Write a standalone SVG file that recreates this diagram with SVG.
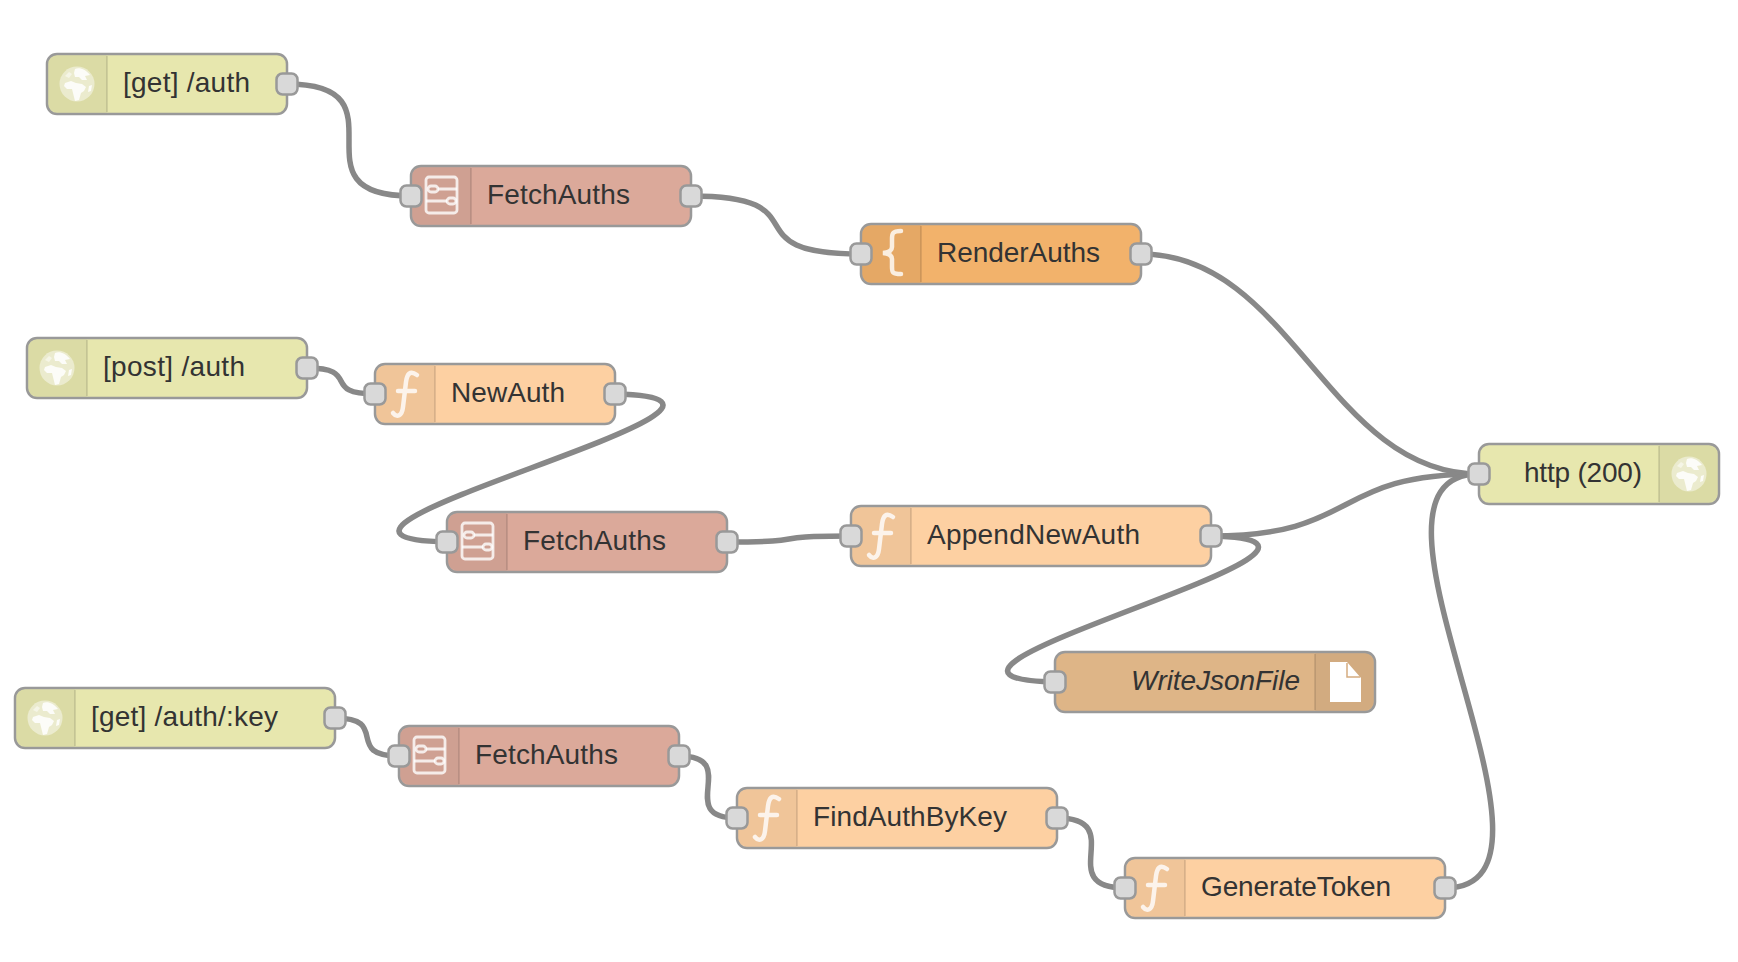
<svg xmlns="http://www.w3.org/2000/svg" width="1738" height="962" viewBox="0 0 1738 962">
<style>
text{font-family:"Liberation Sans",Arial,sans-serif;font-size:28px;fill:#333}
.body{stroke:#999;stroke-width:2.5}
.strip{fill:#000;fill-opacity:.05}
.div{stroke:#000;stroke-opacity:.1;stroke-width:2}
.port{fill:#d9d9d9;stroke:#999;stroke-width:2.5}
.wo{fill:none;stroke:#fff;stroke-width:9}
.w{fill:none;stroke:#888;stroke-width:5.500}
.ic{fill:none;stroke:#fff;stroke-opacity:.8;filter:url(#soft)}
</style>
<defs>
<filter id="soft" x="-20%" y="-20%" width="140%" height="140%"><feGaussianBlur stdDeviation=".7"/></filter>
<rect id="p" x="-10.500" y="-10.500" width="21" height="21" rx="6" class="port"/>
<path id="sl" class="strip" d="M10 1.500H60V58.500H10A8.500 8.500 0 0 1 1.500 50V10A8.500 8.500 0 0 1 10 1.500Z"/>
<g id="globe" filter="url(#soft)">
<circle r="17.500" fill="#fff" fill-opacity=".45"/>
<path fill="#fff" fill-opacity=".85" d="M-2 -15C3 -17 9 -14 13 -9L8 -8 10 -4 5 -4 2 -7 -2 -7 -3 -11ZM-12 -1L-6 -3 -1 -1 5 0 9 3 7 7 4 9 2 16-2 17-4 9-5 5-10 5-13 2ZM12 2L15 1 14 7 11 8Z"/>
<path fill="#fff" fill-opacity=".5" d="M-12 -8L-8 -12-5-10-8-6Z"/>
</g>
<g id="func" class="ic"><path stroke-width="4.500" stroke-linecap="round" fill="none" d="M42 11C35 6 32 10 31 18L28 43C27 52 22 54 18 49M23 27H40"/></g>
<g id="sub" class="ic"><g fill="none" stroke-width="2.800"><rect x="15" y="11" width="31" height="36" rx="3"/><path d="M27 23H46M15 35H36"/><rect x="17" y="20" width="10" height="6" rx="3"/><rect x="36" y="32" width="9" height="6" rx="3"/></g></g>
<path id="brace" class="ic" stroke-width="4.500" stroke-linecap="round" d="M40 7C31 7 31 10 31 15V23C31 27 27 28.500 22 29C27 29.500 31 31 31 35V43C31 48 31 50 40 50"/>
</defs>
<rect width="1738" height="962" fill="#fff"/>
<g id="connectors">
<g id="outlines">
<path class="wo" d="M287 84C412 84 286 196 411 196"/>
<path class="wo" d="M691 196C826 196 726 254 861 254"/>
<path class="wo" d="M1141 254C1291 254 1329 474 1479 474"/>
<path class="wo" d="M307 368C362 368 320 394 375 394"/>
<path class="wo" d="M615 394C832 398.500 230 537.500 447 542"/>
<path class="wo" d="M727 542C820 542 758 536 851 536"/>
<path class="wo" d="M1211 536C1361 536 1329 474 1479 474"/>
<path class="wo" d="M1211 536C1423 540.500 843 677.500 1055 682"/>
<path class="wo" d="M335 718C391 718 343 756 399 756"/>
<path class="wo" d="M679 756C743 756 673 818 737 818"/>
<path class="wo" d="M1057 818C1130 818 1052 888 1125 888"/>
<path class="wo" d="M1445 888C1595 888 1329 474 1479 474"/>
</g>
<path class="w" d="M287 84C412 84 286 196 411 196"/>
<path class="w" d="M691 196C826 196 726 254 861 254"/>
<path class="w" d="M1141 254C1291 254 1329 474 1479 474"/>
<path class="w" d="M307 368C362 368 320 394 375 394"/>
<path class="w" d="M615 394C832 398.500 230 537.500 447 542"/>
<path class="w" d="M727 542C820 542 758 536 851 536"/>
<path class="w" d="M1211 536C1361 536 1329 474 1479 474"/>
<path class="w" d="M1211 536C1423 540.500 843 677.500 1055 682"/>
<path class="w" d="M335 718C391 718 343 756 399 756"/>
<path class="w" d="M679 756C743 756 673 818 737 818"/>
<path class="w" d="M1057 818C1130 818 1052 888 1125 888"/>
<path class="w" d="M1445 888C1595 888 1329 474 1479 474"/>
</g>
<g id="n-get-auth" transform="translate(47 54)">
<rect class="body" width="240" height="60" rx="10" fill="#e7e7ae"/><use href="#sl"/><path class="div" d="M60 2V58"/><use href="#globe" x="30" y="30"/>
<text x="76" y="38" textLength="127">[get] /auth</text><use href="#p" x="240" y="30"/></g>
<g id="n-fetch1" transform="translate(411 166)">
<rect class="body" width="280" height="60" rx="10" fill="#dba99a"/><use href="#sl"/><path class="div" d="M60 2V58"/><use href="#sub"/>
<text x="76" y="38" textLength="143">FetchAuths</text><use href="#p" y="30"/><use href="#p" x="280" y="30"/></g>
<g id="n-render" transform="translate(861 224)">
<rect class="body" width="280" height="60" rx="10" fill="#f2b26b"/><use href="#sl"/><path class="div" d="M60 2V58"/><use href="#brace"/>
<text x="76" y="38" textLength="163">RenderAuths</text><use href="#p" y="30"/><use href="#p" x="280" y="30"/></g>
<g id="n-post-auth" transform="translate(27 338)">
<rect class="body" width="280" height="60" rx="10" fill="#e7e7ae"/><use href="#sl"/><path class="div" d="M60 2V58"/><use href="#globe" x="30" y="30"/>
<text x="76" y="38" textLength="142">[post] /auth</text><use href="#p" x="280" y="30"/></g>
<g id="n-newauth" transform="translate(375 364)">
<rect class="body" width="240" height="60" rx="10" fill="#fdd0a2"/><use href="#sl"/><path class="div" d="M60 2V58"/><use href="#func"/>
<text x="76" y="38" textLength="114">NewAuth</text><use href="#p" y="30"/><use href="#p" x="240" y="30"/></g>
<g id="n-fetch2" transform="translate(447 512)">
<rect class="body" width="280" height="60" rx="10" fill="#dba99a"/><use href="#sl"/><path class="div" d="M60 2V58"/><use href="#sub"/>
<text x="76" y="38" textLength="143">FetchAuths</text><use href="#p" y="30"/><use href="#p" x="280" y="30"/></g>
<g id="n-append" transform="translate(851 506)">
<rect class="body" width="360" height="60" rx="10" fill="#fdd0a2"/><use href="#sl"/><path class="div" d="M60 2V58"/><use href="#func"/>
<text x="76" y="38" textLength="213">AppendNewAuth</text><use href="#p" y="30"/><use href="#p" x="360" y="30"/></g>
<g id="n-http" transform="translate(1479 444)">
<rect class="body" width="240" height="60" rx="10" fill="#e7e7ae"/><g transform="translate(240 0) scale(-1 1)"><use href="#sl"/></g><path class="div" d="M180 2V58"/><use href="#globe" x="210" y="30"/>
<text x="45" y="38" textLength="118">http (200)</text><use href="#p" y="30"/></g>
<g id="n-write" transform="translate(1055 652)">
<rect class="body" width="320" height="60" rx="10" fill="#deb587"/><g transform="translate(320 0) scale(-1 1)"><use href="#sl"/></g><path class="div" d="M260 2V58"/>
<path fill="#fff" filter="url(#soft)" d="M275 10H292L306 26V50H275Z"/><path fill="none" stroke="#d5ac80" stroke-width="1.500" d="M292 11V25H305"/>
<text x="76" y="38" textLength="169" font-style="italic">WriteJsonFile</text><use href="#p" y="30"/></g>
<g id="n-get-key" transform="translate(15 688)">
<rect class="body" width="320" height="60" rx="10" fill="#e7e7ae"/><use href="#sl"/><path class="div" d="M60 2V58"/><use href="#globe" x="30" y="30"/>
<text x="76" y="38" textLength="187">[get] /auth/:key</text><use href="#p" x="320" y="30"/></g>
<g id="n-fetch3" transform="translate(399 726)">
<rect class="body" width="280" height="60" rx="10" fill="#dba99a"/><use href="#sl"/><path class="div" d="M60 2V58"/><use href="#sub"/>
<text x="76" y="38" textLength="143">FetchAuths</text><use href="#p" y="30"/><use href="#p" x="280" y="30"/></g>
<g id="n-find" transform="translate(737 788)">
<rect class="body" width="320" height="60" rx="10" fill="#fdd0a2"/><use href="#sl"/><path class="div" d="M60 2V58"/><use href="#func"/>
<text x="76" y="38" textLength="194">FindAuthByKey</text><use href="#p" y="30"/><use href="#p" x="320" y="30"/></g>
<g id="n-generate" transform="translate(1125 858)">
<rect class="body" width="320" height="60" rx="10" fill="#fdd0a2"/><use href="#sl"/><path class="div" d="M60 2V58"/><use href="#func"/>
<text x="76" y="38" textLength="190">GenerateToken</text><use href="#p" y="30"/><use href="#p" x="320" y="30"/></g>
</svg>
